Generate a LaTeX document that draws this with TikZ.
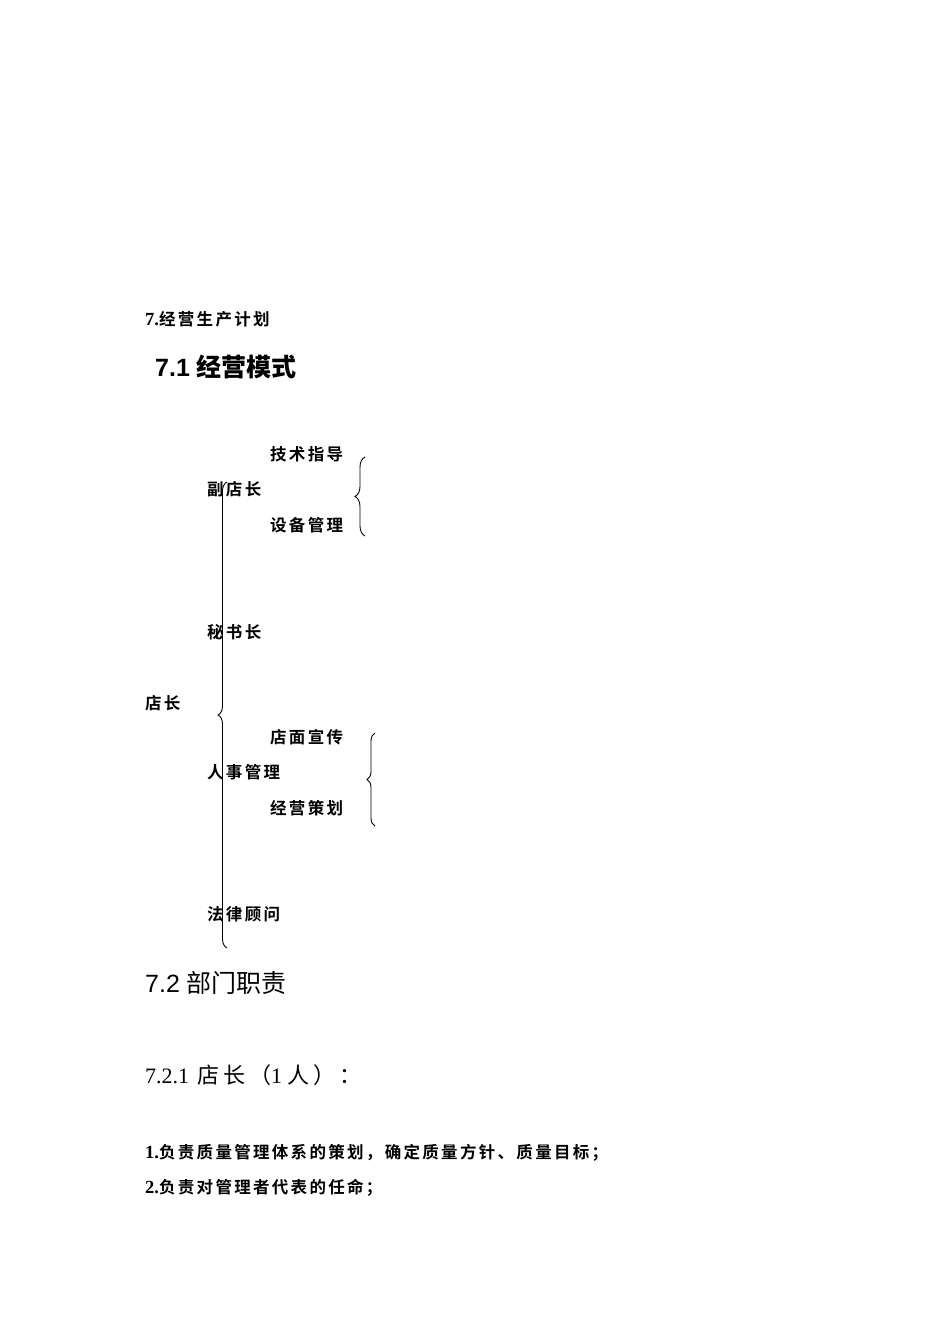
\documentclass[tikz,border=0pt]{standalone}
\usepackage{fontspec}
\setmainfont{Liberation Serif}
\setsansfont{Liberation Sans}
\newfontfamily\cjkb[LetterSpace=14]{Noto Sans CJK SC Bold}
\newfontfamily\cjkh{Noto Sans CJK SC Bold}
\newfontfamily\cjkr{Noto Sans CJK SC}
\newfontfamily\cjks[LetterSpace=18]{Noto Sans CJK SC}
\usetikzlibrary{decorations.pathreplacing}
\tikzset{
  lbl/.style={anchor=west,inner sep=0pt,font=\fontsize{16.5}{19}\selectfont\cjkb},
  txt/.style={anchor=west,inner sep=0pt},
  brc/.style={draw,line width=0.9pt,decorate,decoration={brace,amplitude=#1}},
}
\newcommand{\numb}[1]{{\fontsize{18.5}{19}\selectfont\bfseries #1}}
\begin{document}
\begin{tikzpicture}[x=1pt,y=-1pt]
\useasboundingbox (0,0) rectangle (950,1344);
\fill[white] (0,0) rectangle (950,1344);
% headings
\node[txt] (h7) at (145,319) {\fontsize{16.5}{19}\selectfont\numb{7.}\cjkb 经营生产计划};
\node[txt] (h71) at (155,367) {\fontsize{25}{29}\selectfont\sffamily\bfseries 7.1 {\cjkh 经营模式}};
% tree labels
\node[lbl] (js) at (270,454) {技术指导};
\node[lbl] (fdz) at (207,489) {副店长};
\node[lbl] (sb) at (270,525) {设备管理};
\node[lbl] (msz) at (207,632) {秘书长};
\node[lbl] (dz) at (145,703) {店长};
\node[lbl] (dm) at (270,737) {店面宣传};
\node[lbl] (rs) at (207,772) {人事管理};
\node[lbl] (jy) at (270,808) {经营策划};
\node[lbl] (fl) at (207,914) {法律顾问};
% brace coordinates
\coordinate (bigT) at (227,482);
\coordinate (bigB) at (227,948);
\coordinate (b1T) at (365,457);
\coordinate (b1B) at (365,536);
\coordinate (b2T) at (375,733);
\coordinate (b2B) at (375,826);
\draw[brc=9] (bigB) -- (bigT);
\draw[brc=10] (b1B) -- (b1T);
\draw[brc=8] (b2B) -- (b2T);
% section 7.2
\node[txt] (h72) at (145,983) {\fontsize{25}{29}\selectfont\sffamily 7.2 {\cjkr 部门职责}};
\node[txt] (h721) at (145,1075) {\fontsize{22}{26}\selectfont 7.2.1\hspace{8pt}{\cjks 店长（}1\hspace{5pt}{\cjks 人）：}};
\node[txt] (p1) at (145,1153) {\fontsize{16.5}{19}\selectfont\numb{1.}\cjkb 负责质量管理体系的策划，确定质量方针、质量目标；};
\node[txt] (p2) at (145,1188) {\fontsize{16.5}{19}\selectfont\numb{2.}\cjkb 负责对管理者代表的任命；};
\end{tikzpicture}
\end{document}
